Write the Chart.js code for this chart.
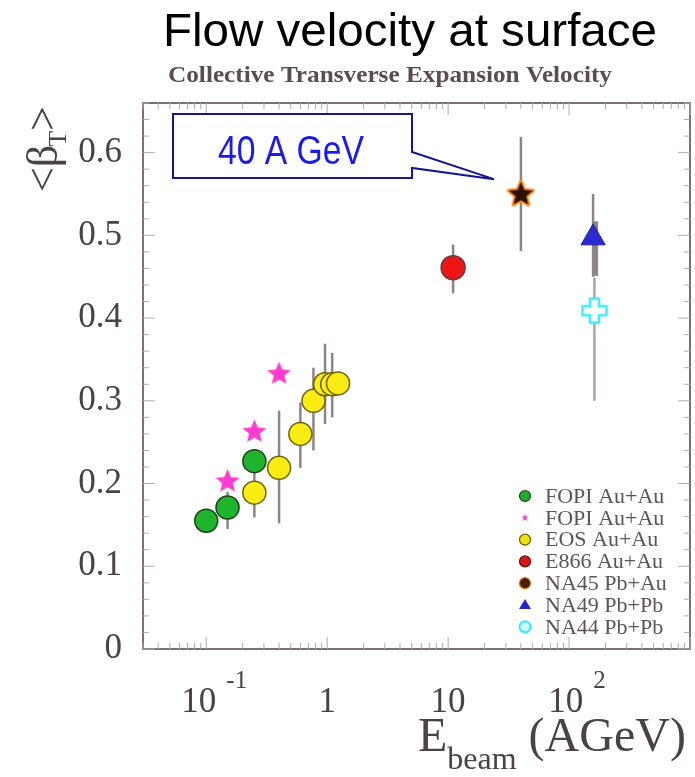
<!DOCTYPE html>
<html>
<head>
<meta charset="utf-8">
<script src="https://cdn.jsdelivr.net/npm/chart.js@4.4.1/dist/chart.umd.min.js"></script>
<style>
  html, body { margin: 0; padding: 0; background: #fff; }
  #wrap { width: 695px; height: 777px; }
</style>
</head>
<body>
<div id="wrap"><canvas id="flowChart" width="695" height="777"></canvas></div>
<script>
// values (x = beam energy in AGeV, y = <beta_T>)
const fopiX = [0.1, 0.15, 0.25];
const fopiY = [0.155, 0.171, 0.227];
const fopiLo = [null, 0.145, null];
const fopiHi = [null, 0.19, null];

const fopiStarX = [0.15, 0.25, 0.4];
const fopiStarY = [0.204, 0.264, 0.334];

const eosX = [0.25, 0.4, 0.6, 0.77, 0.96, 1.1, 1.23];
const eosY = [0.189, 0.219, 0.26, 0.3, 0.32, 0.32, 0.321];
const eosLo = [0.159, 0.152, 0.219, 0.24, 0.272, 0.28, null];
const eosHi = [0.216, 0.288, 0.298, 0.34, 0.369, 0.358, null];

const e866X = [11];
const e866Y = [0.461];
const e866Lo = [0.43];
const e866Hi = [0.489];

const na45X = [40];
const na45Y = [0.551];
const na45Lo = [0.481];
const na45Hi = [0.619];

const na49X = [158];
const na49Y = [0.497];
const na49Lo = [0.45];
const na49Hi = [0.55];
const na49SysLo = [0.451];
const na49SysHi = [0.517];

const na44X = [162];
const na44Y = [0.409];
const na44Lo = [0.3];
const na44Hi = [0.449];

const seriesNames = ["FOPI Au+Au", "FOPI Au+Au", "EOS Au+Au", "E866 Au+Au", "NA45 Pb+Au", "NA49 Pb+Pb", "NA44 Pb+Pb"];

const yTicks = [0, 0.1, 0.2, 0.3, 0.4, 0.5, 0.6];
const xTicks = [0.1, 1, 10, 100];
const xTickBase = ["10", "1", "10", "10"];
const xTickExp = ["-1", "", "", "2"];

const calloutText = "40 A GeV";

function pts(xs, ys) {
  return xs.map((x, i) => ({ x: x, y: ys[i] }));
}

function starCanvas(outer, fill, stroke, lw) {
  const size = Math.ceil(outer * 2 + lw * 2 + 4);
  const c = document.createElement("canvas");
  c.width = size;
  c.height = size;
  const g = c.getContext("2d");
  const cx = size / 2, cy = size / 2 + outer * 0.1, inner = outer * 0.45;
  g.beginPath();
  for (let i = 0; i < 10; i++) {
    const r = i % 2 ? inner : outer;
    const a = -Math.PI / 2 + i * Math.PI / 5;
    g.lineTo(cx + r * Math.cos(a), cy + r * Math.sin(a));
  }
  g.closePath();
  if (lw) {
    g.lineJoin = "round";
    g.lineWidth = lw;
    g.strokeStyle = stroke;
    g.stroke();
  }
  g.fillStyle = fill;
  g.fill();
  return c;
}

function plusCanvas(half, arm, color, lw) {
  const size = Math.ceil(half * 2 + lw * 2 + 2);
  const c = document.createElement("canvas");
  c.width = size;
  c.height = size;
  const g = c.getContext("2d");
  const o = size / 2;
  g.beginPath();
  g.moveTo(o - arm, o - half);
  g.lineTo(o + arm, o - half);
  g.lineTo(o + arm, o - arm);
  g.lineTo(o + half, o - arm);
  g.lineTo(o + half, o + arm);
  g.lineTo(o + arm, o + arm);
  g.lineTo(o + arm, o + half);
  g.lineTo(o - arm, o + half);
  g.lineTo(o - arm, o + arm);
  g.lineTo(o - half, o + arm);
  g.lineTo(o - half, o - arm);
  g.lineTo(o - arm, o - arm);
  g.closePath();
  g.fillStyle = "#ffffff";
  g.fill();
  g.lineWidth = lw;
  g.strokeStyle = color;
  g.stroke();
  return c;
}

const magentaStar = starCanvas(12.5, "#ff3ccf", null, 0);
const na45Star = starCanvas(12.5, "#2a1200", "#ff8a1e", 4);
const na44Plus = plusCanvas(12, 4.5, "#3cf0ff", 2.5);

// error bars, frame ticks and text drawn with the chart's scales
const decorPlugin = {
  id: "decor",
  beforeDatasetsDraw(chart) {
    const ctx = chart.ctx;
    const xs = chart.scales.x, ys = chart.scales.y;
    const a = chart.chartArea;
    ctx.save();
    // frame
    ctx.strokeStyle = "#7d7075";
    ctx.lineWidth = 2;
    ctx.strokeRect(a.left, a.top, a.right - a.left, a.bottom - a.top);
    // y ticks, major 0.1 / minor 0.02
    ctx.lineWidth = 1;
    ctx.strokeStyle = "#b4a8ae";
    for (let k = 0; k <= 33; k++) {
      const v = k * 0.02;
      const y = ys.getPixelForValue(v);
      const len = k % 5 === 0 ? 12 : 6;
      ctx.beginPath();
      ctx.moveTo(a.left, y); ctx.lineTo(a.left + len, y);
      ctx.moveTo(a.right, y); ctx.lineTo(a.right - len, y);
      ctx.stroke();
    }
    // x log ticks
    for (let d = -2; d <= 3; d++) {
      for (let m = 1; m <= 9; m++) {
        const v = m * Math.pow(10, d);
        if (v < xs.min || v > xs.max) continue;
        const x = xs.getPixelForValue(v);
        const len = m === 1 ? 12 : 6;
        ctx.beginPath();
        ctx.moveTo(x, a.bottom); ctx.lineTo(x, a.bottom - len);
        ctx.moveTo(x, a.top); ctx.lineTo(x, a.top + len);
        ctx.stroke();
      }
    }
    // error bars
    chart.data.datasets.forEach((ds) => {
      if (!ds.errLo) return;
      ds.data.forEach((p, j) => {
        const x = xs.getPixelForValue(p.x);
        if (ds.errLo[j] != null) {
          ctx.strokeStyle = ds.errColor || "#8e8389";
          ctx.lineWidth = 2.5;
          ctx.beginPath();
          ctx.moveTo(x, ys.getPixelForValue(ds.errLo[j]));
          ctx.lineTo(x, ys.getPixelForValue(ds.errHi[j]));
          ctx.stroke();
        }
        if (ds.sysLo && ds.sysLo[j] != null) {
          ctx.strokeStyle = "#8e8389";
          ctx.lineWidth = 6;
          ctx.beginPath();
          ctx.moveTo(x + 2, ys.getPixelForValue(ds.sysLo[j]));
          ctx.lineTo(x + 2, ys.getPixelForValue(ds.sysHi[j]));
          ctx.stroke();
        }
      });
    });
    ctx.restore();
  },
  afterDatasetsDraw(chart) {
    const ctx = chart.ctx;
    const xs = chart.scales.x, ys = chart.scales.y;
    ctx.save();

    // titles
    ctx.fillStyle = "#000";
    ctx.textAlign = "center";
    ctx.textBaseline = "alphabetic";
    ctx.font = "47px 'Liberation Sans', Arial, sans-serif";
    fitText(ctx, "Flow velocity at surface", 410, 46, 494);
    ctx.fillStyle = "#5a4c50";
    ctx.font = "bold 23px 'Liberation Serif', 'Times New Roman', serif";
    fitText(ctx, "Collective Transverse Expansion Velocity", 390, 82, 444);

    // x tick labels with exponents
    ctx.fillStyle = "#4a4246";
    ctx.textAlign = "left";
    xTicks.forEach((v, i) => {
      const x = xs.getPixelForValue(v);
      ctx.font = "35px 'Liberation Serif', 'Times New Roman', serif";
      const wb = ctx.measureText(xTickBase[i]).width;
      ctx.font = "25px 'Liberation Serif', 'Times New Roman', serif";
      const we = xTickExp[i] ? ctx.measureText(xTickExp[i]).width + 10 : 0;
      const left = x + (we ? 8 : 0) - (wb + we) / 2;
      ctx.font = "35px 'Liberation Serif', 'Times New Roman', serif";
      ctx.fillText(xTickBase[i], left, 712);
      if (we) {
        ctx.font = "25px 'Liberation Serif', 'Times New Roman', serif";
        ctx.fillText(xTickExp[i], left + wb + 10, 688);
      }
    });

    // x axis title
    let tx = 418;
    ctx.font = "48px 'Liberation Serif', 'Times New Roman', serif";
    ctx.fillText("E", tx, 751);
    tx += ctx.measureText("E").width;
    ctx.font = "32px 'Liberation Serif', 'Times New Roman', serif";
    ctx.fillText("beam", tx, 769);
    tx += ctx.measureText("beam").width + 12;
    ctx.font = "48px 'Liberation Serif', 'Times New Roman', serif";
    ctx.fillText("(AGeV)", tx, 751);

    // y axis title, rotated
    ctx.save();
    ctx.translate(57, 192);
    ctx.rotate(-Math.PI / 2);
    let ty = 0;
    ctx.font = "44px 'Liberation Serif', 'Times New Roman', serif";
    ctx.fillText("<", ty, 0);
    ty += ctx.measureText("<").width;
    ctx.fillText("\u03b2", ty, 0);
    ty += ctx.measureText("\u03b2").width;
    ctx.font = "26px 'Liberation Serif', 'Times New Roman', serif";
    ctx.fillText("T", ty - 2, 9);
    ty += ctx.measureText("T").width - 2;
    ctx.font = "44px 'Liberation Serif', 'Times New Roman', serif";
    ctx.fillText(">", ty, 0);
    ctx.restore();

    // callout pointing at the 40 AGeV point
    const tipX = xs.getPixelForValue(na45X[0]) - 27;
    const tipY = ys.getPixelForValue(na45Y[0]) - 14;
    const bx0 = 173, by0 = 114, bx1 = 412, by1 = 178;
    ctx.beginPath();
    ctx.moveTo(bx0, by0);
    ctx.lineTo(bx1, by0);
    ctx.lineTo(bx1, 152);
    ctx.lineTo(tipX, tipY);
    ctx.lineTo(bx1, 168);
    ctx.lineTo(bx1, by1);
    ctx.lineTo(bx0, by1);
    ctx.closePath();
    ctx.fillStyle = "#ffffff";
    ctx.fill();
    ctx.lineWidth = 2;
    ctx.strokeStyle = "#16168a";
    ctx.stroke();
    ctx.fillStyle = "#1a1aee";
    ctx.textAlign = "center";
    ctx.textBaseline = "middle";
    ctx.font = "41px 'Liberation Sans Narrow', 'Liberation Sans', Arial, sans-serif";
    fitText(ctx, calloutText, 291, 153, 146);

    // legend
    const lx = 525, ly0 = 496, step = 21.8;
    ctx.textAlign = "left";
    ctx.textBaseline = "middle";
    ctx.font = "22px 'Liberation Serif', 'Times New Roman', serif";
    seriesNames.forEach((name, i) => {
      const y = ly0 + i * step;
      drawLegendMarker(ctx, i, lx, y);
      ctx.fillStyle = "#5e5458";
      ctx.fillText(name, 545, y + 1);
    });
    ctx.restore();
  }
};

function fitText(ctx, text, cx, y, width) {
  const w = ctx.measureText(text).width;
  const s = width / w;
  ctx.save();
  ctx.translate(cx, y);
  ctx.scale(s, 1);
  ctx.fillText(text, 0, 0);
  ctx.restore();
}

function drawLegendMarker(ctx, i, x, y) {
  ctx.save();
  ctx.lineWidth = 1.2;
  ctx.beginPath();
  if (i === 1) {
    for (let k = 0; k < 10; k++) {
      const r = k % 2 ? 1.6 : 4;
      const a = -Math.PI / 2 + k * Math.PI / 5;
      ctx.lineTo(x + r * Math.cos(a), y + r * Math.sin(a));
    }
    ctx.closePath();
    ctx.fillStyle = "#ff44dd";
    ctx.fill();
  } else if (i === 5) {
    ctx.moveTo(x, y - 6);
    ctx.lineTo(x + 6, y + 4);
    ctx.lineTo(x - 6, y + 4);
    ctx.closePath();
    ctx.fillStyle = "#2424c8";
    ctx.fill();
  } else {
    const fills = ["#1fae2a", "", "#f0e010", "#e01414", "#4a1c00", "", "#c8ffff"];
    const lines = ["#1d4a1d", "", "#6c6200", "#5a1010", "#e07010", "", "#38e8ff"];
    ctx.arc(x, y, 5.5, 0, Math.PI * 2);
    ctx.fillStyle = fills[i];
    ctx.fill();
    ctx.strokeStyle = lines[i];
    ctx.lineWidth = i === 6 ? 2 : 1.2;
    ctx.stroke();
  }
  ctx.restore();
}

const ctx = document.getElementById("flowChart").getContext("2d");

new Chart(ctx, {
  type: "scatter",
  data: {
    datasets: [
      {
        label: seriesNames[6],
        data: pts(na44X, na44Y),
        errLo: na44Lo, errHi: na44Hi, errColor: "#a3a7bb",
        pointStyle: na44Plus,
      },
      {
        label: seriesNames[5],
        data: pts(na49X, na49Y),
        errLo: na49Lo, errHi: na49Hi, sysLo: na49SysLo, sysHi: na49SysHi,
        pointStyle: "triangle",
        pointRadius: 14,
        backgroundColor: "#2a2ad2",
        borderColor: "#2222a8",
        borderWidth: 1,
      },
      {
        label: seriesNames[4],
        data: pts(na45X, na45Y),
        errLo: na45Lo, errHi: na45Hi,
        pointStyle: na45Star,
      },
      {
        label: seriesNames[3],
        data: pts(e866X, e866Y),
        errLo: e866Lo, errHi: e866Hi,
        pointStyle: "circle",
        pointRadius: 12,
        backgroundColor: "#ee1515",
        borderColor: "#6a3a3a",
        borderWidth: 1.5,
      },
      {
        label: seriesNames[1],
        data: pts(fopiStarX, fopiStarY),
        pointStyle: magentaStar,
      },
      {
        label: seriesNames[0],
        data: pts(fopiX, fopiY),
        errLo: fopiLo, errHi: fopiHi,
        pointStyle: "circle",
        pointRadius: 11.5,
        backgroundColor: "#1fb42c",
        borderColor: "#1f3f1f",
        borderWidth: 1.5,
      },
      {
        label: seriesNames[2],
        data: pts(eosX, eosY),
        errLo: eosLo, errHi: eosHi,
        pointStyle: "circle",
        pointRadius: 11.5,
        backgroundColor: "#fbec14",
        borderColor: "#6c6000",
        borderWidth: 1.5,
      },
    ],
  },
  options: {
    responsive: false,
    animation: false,
    events: [],
    layout: { autoPadding: false, padding: { top: 103, right: 5, left: 0, bottom: 0 } },
    plugins: {
      legend: { display: false },
      tooltip: { enabled: false },
    },
    scales: {
      x: {
        type: "logarithmic",
        min: 0.03,
        max: 1000,
        grid: { display: false, drawTicks: false },
        border: { display: false },
        ticks: { display: false },
        afterFit: (scale) => { scale.height = 128; },
      },
      y: {
        min: 0,
        max: 0.66,
        grid: { display: false, drawTicks: false },
        border: { display: false },
        afterBuildTicks: (scale) => { scale.ticks = yTicks.map((v) => ({ value: v })); },
        afterFit: (scale) => { scale.width = 143; },
        ticks: {
          padding: 21,
          color: "#4a4246",
          font: { family: "'Liberation Serif', 'Times New Roman', serif", size: 35 },
          callback: (v) => (v === 0 ? "0" : v.toFixed(1)),
        },
      },
    },
  },
  plugins: [decorPlugin],
});
</script>
</body>
</html>
